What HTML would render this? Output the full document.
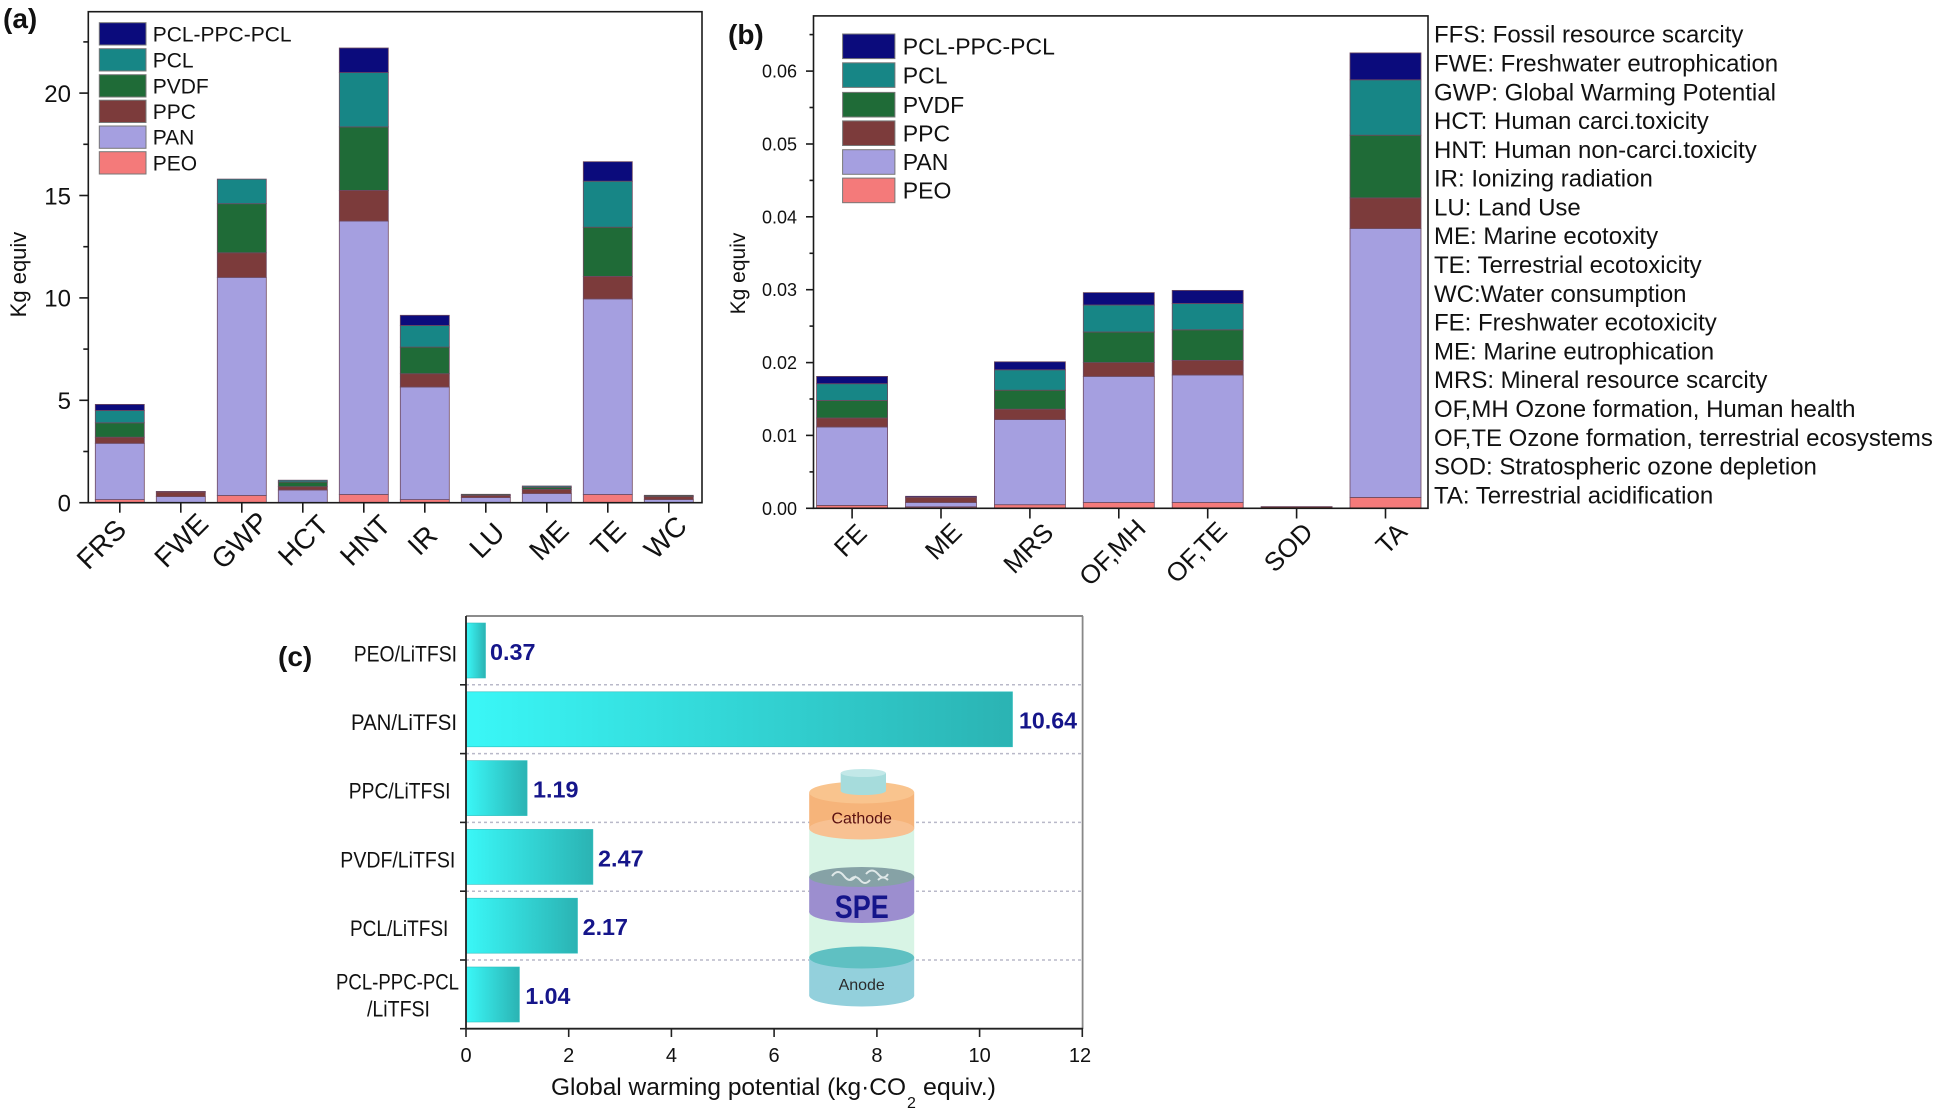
<!DOCTYPE html>
<html><head><meta charset="utf-8"><style>
body{margin:0;background:#fff}
svg{display:block}
text{font-family:"Liberation Sans",Arial,sans-serif;fill:#111}
text.nv{fill:#15158a}
text.dr{fill:#5a1010}
text.dk{fill:#2a2a2a}
.n{fill:#0b0b7c}.t{fill:#178686}.g{fill:#1f6b37}.p{fill:#7c3b3b}.l{fill:#a59fe0}.r{fill:#f47a7a}
.bars rect{stroke:#6e4a60;stroke-width:0.8}
.leg rect{stroke:#777;stroke-width:1}
.ax{stroke:#1a1a1a;stroke-width:1.6;fill:none}
</style></head><body>
<svg width="1938" height="1113" viewBox="0 0 1938 1113" xmlns="http://www.w3.org/2000/svg">
<defs>
<linearGradient id="cy" x1="0" y1="0" x2="1" y2="0">
<stop offset="0" stop-color="#3af7f7"/><stop offset="1" stop-color="#2bb3b3"/>
</linearGradient>
</defs>
<rect width="1938" height="1113" fill="#fff"/>

<!-- ================= PANEL A ================= -->
<text x="3" y="28" font-size="28" font-weight="bold">(a)</text>
<g class="bars">
<g transform="translate(95.3,0)"><rect class="r" y="499.6" width="49" height="3.1"/><rect class="l" y="443.3" width="49" height="56.3"/><rect class="p" y="437.2" width="49" height="6.1"/><rect class="g" y="422.8" width="49" height="14.4"/><rect class="t" y="410.5" width="49" height="12.3"/><rect class="n" y="404.4" width="49" height="6.1"/></g>
<g transform="translate(156.3,0)"><rect class="l" y="496.6" width="49" height="6.1"/><rect class="p" y="492.1" width="49" height="4.5"/><rect class="g" y="491.4" width="49" height="0.7"/></g>
<g transform="translate(217.3,0)"><rect class="r" y="495.5" width="49" height="7.2"/><rect class="l" y="277.4" width="49" height="218.1"/><rect class="p" y="252.8" width="49" height="24.6"/><rect class="g" y="203.7" width="49" height="49.1"/><rect class="t" y="179.1" width="49" height="24.6"/></g>
<g transform="translate(278.3,0)"><rect class="l" y="490.0" width="49" height="12.7"/><rect class="p" y="486.7" width="49" height="3.3"/><rect class="g" y="482.0" width="49" height="4.7"/><rect class="t" y="480.2" width="49" height="1.8"/></g>
<g transform="translate(339.3,0)"><rect class="r" y="494.5" width="49" height="8.2"/><rect class="l" y="221.1" width="49" height="273.4"/><rect class="p" y="190.4" width="49" height="30.7"/><rect class="g" y="126.9" width="49" height="63.5"/><rect class="t" y="72.6" width="49" height="54.3"/><rect class="n" y="48.0" width="49" height="24.6"/></g>
<g transform="translate(400.3,0)"><rect class="r" y="499.6" width="49" height="3.1"/><rect class="l" y="387.0" width="49" height="112.6"/><rect class="p" y="373.7" width="49" height="13.3"/><rect class="g" y="347.1" width="49" height="26.6"/><rect class="t" y="325.5" width="49" height="21.6"/><rect class="n" y="315.3" width="49" height="10.2"/></g>
<g transform="translate(461.3,0)"><rect class="l" y="497.6" width="49" height="5.1"/><rect class="p" y="495.5" width="49" height="2.1"/><rect class="g" y="494.3" width="49" height="1.2"/></g>
<g transform="translate(522.3,0)"><rect class="l" y="493.5" width="49" height="9.2"/><rect class="p" y="489.4" width="49" height="4.1"/><rect class="g" y="487.3" width="49" height="2.1"/><rect class="t" y="486.0" width="49" height="1.3"/></g>
<g transform="translate(583.3,0)"><rect class="r" y="494.5" width="49" height="8.2"/><rect class="l" y="298.9" width="49" height="195.6"/><rect class="p" y="276.4" width="49" height="22.5"/><rect class="g" y="227.2" width="49" height="49.2"/><rect class="t" y="181.2" width="49" height="46"/><rect class="n" y="161.7" width="49" height="19.5"/></g>
<g transform="translate(644.3,0)"><rect class="l" y="499.6" width="49" height="3.1"/><rect class="p" y="496.6" width="49" height="3"/><rect class="g" y="495.3" width="49" height="1.3"/></g>
</g>
<rect class="ax" x="88.3" y="11.7" width="613.7" height="491"/>
<!-- y ticks a -->
<g stroke="#1a1a1a" stroke-width="1.6">
<line x1="79.3" y1="502.7" x2="88.3" y2="502.7"/><line x1="79.3" y1="400.3" x2="88.3" y2="400.3"/><line x1="79.3" y1="297.9" x2="88.3" y2="297.9"/><line x1="79.3" y1="195.5" x2="88.3" y2="195.5"/><line x1="79.3" y1="93.1" x2="88.3" y2="93.1"/>
<line x1="83.3" y1="451.5" x2="88.3" y2="451.5"/><line x1="83.3" y1="349.1" x2="88.3" y2="349.1"/><line x1="83.3" y1="246.7" x2="88.3" y2="246.7"/><line x1="83.3" y1="144.3" x2="88.3" y2="144.3"/><line x1="83.3" y1="41.9" x2="88.3" y2="41.9"/>
<line x1="119.8" y1="502.7" x2="119.8" y2="512.7"/><line x1="180.8" y1="502.7" x2="180.8" y2="512.7"/><line x1="241.8" y1="502.7" x2="241.8" y2="512.7"/><line x1="302.8" y1="502.7" x2="302.8" y2="512.7"/><line x1="363.8" y1="502.7" x2="363.8" y2="512.7"/><line x1="424.8" y1="502.7" x2="424.8" y2="512.7"/><line x1="485.8" y1="502.7" x2="485.8" y2="512.7"/><line x1="546.8" y1="502.7" x2="546.8" y2="512.7"/><line x1="607.8" y1="502.7" x2="607.8" y2="512.7"/><line x1="668.8" y1="502.7" x2="668.8" y2="512.7"/>
</g>
<g font-size="24" text-anchor="end">
<text x="71" y="511.5">0</text><text x="71" y="409.1">5</text><text x="71" y="306.7">10</text><text x="71" y="204.3">15</text><text x="71" y="101.9">20</text>
</g>
<text transform="translate(26,274.5) rotate(-90)" font-size="22" text-anchor="middle">Kg equiv</text>
<g font-size="28" text-anchor="middle">
<text transform="translate(101,544) rotate(-45)" dy="0.36em">FRS</text>
<text transform="translate(180.8,540) rotate(-45)" dy="0.36em">FWE</text>
<text transform="translate(239.5,540) rotate(-45)" dy="0.36em">GWP</text>
<text transform="translate(302.8,540) rotate(-45)" dy="0.36em">HCT</text>
<text transform="translate(364.8,540) rotate(-45)" dy="0.36em">HNT</text>
<text transform="translate(422,540) rotate(-45)" dy="0.36em">IR</text>
<text transform="translate(486.5,540) rotate(-45)" dy="0.36em">LU</text>
<text transform="translate(548.5,540) rotate(-45)" dy="0.36em">ME</text>
<text transform="translate(607.8,538) rotate(-45)" dy="0.36em">TE</text>
<text transform="translate(665,537) rotate(-45)" dy="0.36em">WC</text>
</g>
<g class="leg">
<rect class="n" x="99.3" y="22.7" width="46.7" height="22.3"/>
<rect class="t" x="99.3" y="48.7" width="46.7" height="22.3"/>
<rect class="g" x="99.3" y="74.7" width="46.7" height="22.3"/>
<rect class="p" x="99.3" y="100.2" width="46.7" height="22.3"/>
<rect class="l" x="99.3" y="126" width="46.7" height="22.3"/>
<rect class="r" x="99.3" y="151.7" width="46.7" height="22.3"/>
</g>
<g font-size="21">
<text x="152.7" y="41.3">PCL-PPC-PCL</text>
<text x="152.7" y="67.3">PCL</text>
<text x="152.7" y="93.3">PVDF</text>
<text x="152.7" y="118.8">PPC</text>
<text x="152.7" y="144.6">PAN</text>
<text x="152.7" y="170.3">PEO</text>
</g>

<!-- ================= PANEL B ================= -->
<text x="728" y="44" font-size="28" font-weight="bold">(b)</text>
<g class="bars">
<g transform="translate(816.6,0)"><rect class="r" y="505.4" width="71" height="2.9"/><rect class="l" y="427.0" width="71" height="78.4"/><rect class="p" y="418.0" width="71" height="9"/><rect class="g" y="400.5" width="71" height="17.5"/><rect class="t" y="383.7" width="71" height="16.8"/><rect class="n" y="376.4" width="71" height="7.3"/></g>
<g transform="translate(905.5,0)"><rect class="r" y="506.8" width="71" height="1.5"/><rect class="l" y="502.5" width="71" height="4.3"/><rect class="p" y="497.4" width="71" height="5.1"/><rect class="n" y="496.3" width="71" height="1.1"/></g>
<g transform="translate(994.4,0)"><rect class="r" y="504.7" width="71" height="3.6"/><rect class="l" y="419.6" width="71" height="85.1"/><rect class="p" y="409.2" width="71" height="10.4"/><rect class="g" y="390.2" width="71" height="19"/><rect class="t" y="369.8" width="71" height="20.4"/><rect class="n" y="361.8" width="71" height="8"/></g>
<g transform="translate(1083.3,0)"><rect class="r" y="502.5" width="71" height="5.8"/><rect class="l" y="376.4" width="71" height="126.1"/><rect class="p" y="362.6" width="71" height="13.8"/><rect class="g" y="332.0" width="71" height="30.6"/><rect class="t" y="305.0" width="71" height="27"/><rect class="n" y="292.6" width="71" height="12.4"/></g>
<g transform="translate(1172.2,0)"><rect class="r" y="502.5" width="71" height="5.8"/><rect class="l" y="375.0" width="71" height="127.5"/><rect class="p" y="360.4" width="71" height="14.6"/><rect class="g" y="329.8" width="71" height="30.6"/><rect class="t" y="303.5" width="71" height="26.3"/><rect class="n" y="290.4" width="71" height="13.1"/></g>
<g transform="translate(1261.1,0)"><rect class="p" y="506.6" width="71" height="1.7"/></g>
<g transform="translate(1350,0)"><rect class="r" y="497.4" width="71" height="10.9"/><rect class="l" y="228.5" width="71" height="268.9"/><rect class="p" y="197.9" width="71" height="30.6"/><rect class="g" y="135.2" width="71" height="62.7"/><rect class="t" y="79.8" width="71" height="55.4"/><rect class="n" y="52.9" width="71" height="26.9"/></g>
</g>
<rect class="ax" x="813.5" y="15.9" width="614.5" height="492.4"/>
<g stroke="#1a1a1a" stroke-width="1.6">
<line x1="806" y1="508.3" x2="813.5" y2="508.3"/><line x1="806" y1="435.4" x2="813.5" y2="435.4"/><line x1="806" y1="362.6" x2="813.5" y2="362.6"/><line x1="806" y1="289.7" x2="813.5" y2="289.7"/><line x1="806" y1="216.8" x2="813.5" y2="216.8"/><line x1="806" y1="144.0" x2="813.5" y2="144.0"/><line x1="806" y1="71.1" x2="813.5" y2="71.1"/>
<line x1="809.5" y1="471.9" x2="813.5" y2="471.9"/><line x1="809.5" y1="399.0" x2="813.5" y2="399.0"/><line x1="809.5" y1="326.1" x2="813.5" y2="326.1"/><line x1="809.5" y1="253.3" x2="813.5" y2="253.3"/><line x1="809.5" y1="180.4" x2="813.5" y2="180.4"/><line x1="809.5" y1="107.5" x2="813.5" y2="107.5"/><line x1="809.5" y1="34.6" x2="813.5" y2="34.6"/>
<line x1="852.1" y1="508.3" x2="852.1" y2="518.5"/><line x1="941" y1="508.3" x2="941" y2="518.5"/><line x1="1029.9" y1="508.3" x2="1029.9" y2="518.5"/><line x1="1118.8" y1="508.3" x2="1118.8" y2="518.5"/><line x1="1207.7" y1="508.3" x2="1207.7" y2="518.5"/><line x1="1296.6" y1="508.3" x2="1296.6" y2="518.5"/><line x1="1385.5" y1="508.3" x2="1385.5" y2="518.5"/>
</g>
<g font-size="18" text-anchor="end">
<text x="797" y="514.8">0.00</text><text x="797" y="441.9">0.01</text><text x="797" y="369.1">0.02</text><text x="797" y="296.2">0.03</text><text x="797" y="223.3">0.04</text><text x="797" y="150.5">0.05</text><text x="797" y="77.6">0.06</text>
</g>
<text transform="translate(745,273.5) rotate(-90)" font-size="21" text-anchor="middle">Kg equiv</text>
<g font-size="26" text-anchor="middle">
<text transform="translate(850,540) rotate(-45)" dy="0.36em">FE</text>
<text transform="translate(943,541) rotate(-45)" dy="0.36em">ME</text>
<text transform="translate(1028,548) rotate(-45)" dy="0.36em">MRS</text>
<text transform="translate(1112,552) rotate(-45)" dy="0.36em">OF,MH</text>
<text transform="translate(1196,552) rotate(-45)" dy="0.36em">OF,TE</text>
<text transform="translate(1288,547) rotate(-45)" dy="0.36em">SOD</text>
<text transform="translate(1391,538) rotate(-45)" dy="0.36em">TA</text>
</g>
<g class="leg">
<rect class="n" x="842.6" y="34" width="52.3" height="24.6"/>
<rect class="t" x="842.6" y="62.8" width="52.3" height="24.6"/>
<rect class="g" x="842.6" y="92.4" width="52.3" height="24.6"/>
<rect class="p" x="842.6" y="120.9" width="52.3" height="24.6"/>
<rect class="l" x="842.6" y="149.7" width="52.3" height="24.6"/>
<rect class="r" x="842.6" y="178.1" width="52.3" height="24.6"/>
</g>
<g font-size="23">
<text x="902.8" y="54.5">PCL-PPC-PCL</text>
<text x="902.8" y="83.3">PCL</text>
<text x="902.8" y="112.9">PVDF</text>
<text x="902.8" y="141.4">PPC</text>
<text x="902.8" y="170.2">PAN</text>
<text x="902.8" y="198.6">PEO</text>
</g>

<!-- definitions -->
<g font-size="24">
<text x="1434" y="42.7">FFS: Fossil resource scarcity</text>
<text x="1434" y="71.5">FWE: Freshwater eutrophication</text>
<text x="1434" y="100.3">GWP: Global Warming Potential</text>
<text x="1434" y="129.1">HCT: Human carci.toxicity</text>
<text x="1434" y="157.9">HNT: Human non-carci.toxicity</text>
<text x="1434" y="186.7">IR: Ionizing radiation</text>
<text x="1434" y="215.4">LU: Land Use</text>
<text x="1434" y="244.2">ME: Marine ecotoxity</text>
<text x="1434" y="273.0">TE: Terrestrial ecotoxicity</text>
<text x="1434" y="301.8">WC:Water consumption</text>
<text x="1434" y="330.6">FE: Freshwater ecotoxicity</text>
<text x="1434" y="359.4">ME: Marine eutrophication</text>
<text x="1434" y="388.2">MRS: Mineral resource scarcity</text>
<text x="1434" y="417.0">OF,MH Ozone formation, Human health</text>
<text x="1434" y="445.8">OF,TE Ozone formation, terrestrial ecosystems</text>
<text x="1434" y="474.5">SOD: Stratospheric ozone depletion</text>
<text x="1434" y="503.3">TA: Terrestrial acidification</text>
</g>

<!-- ================= PANEL C ================= -->
<text x="278" y="666" font-size="28" font-weight="bold">(c)</text>
<!-- separators -->
<g stroke="#b9b9c9" stroke-width="1.5" stroke-dasharray="3,3">
<line x1="466" y1="684.8" x2="1082" y2="684.8"/><line x1="466" y1="753.6" x2="1082" y2="753.6"/><line x1="466" y1="822.4" x2="1082" y2="822.4"/><line x1="466" y1="891.2" x2="1082" y2="891.2"/><line x1="466" y1="960" x2="1082" y2="960"/>
</g>
<!-- frame -->
<line x1="466" y1="616" x2="1083" y2="616" stroke="#666" stroke-width="1.6"/>
<line x1="1082.6" y1="616" x2="1082.6" y2="1029" stroke="#888" stroke-width="1.8"/>
<!-- bars -->
<g fill="url(#cy)" stroke="#2fbfbf" stroke-width="0.6">
<rect x="466.5" y="623" width="19" height="55"/>
<rect x="466.5" y="691.8" width="546" height="55"/>
<rect x="466.5" y="760.6" width="60.6" height="55"/>
<rect x="466.5" y="829.4" width="126.4" height="55"/>
<rect x="466.5" y="898.2" width="111" height="55"/>
<rect x="466.5" y="967" width="52.9" height="55"/>
</g>
<!-- axes -->
<line x1="466" y1="616" x2="466" y2="1029.5" stroke="#222" stroke-width="1.8"/>
<line x1="466" y1="1028.7" x2="1083" y2="1028.7" stroke="#222" stroke-width="1.8"/>
<g stroke="#222" stroke-width="1.6">
<line x1="460" y1="684.8" x2="466" y2="684.8"/><line x1="460" y1="753.6" x2="466" y2="753.6"/><line x1="460" y1="822.4" x2="466" y2="822.4"/><line x1="460" y1="891.2" x2="466" y2="891.2"/><line x1="460" y1="960" x2="466" y2="960"/><line x1="460" y1="1028.7" x2="466" y2="1028.7"/>
<line x1="466" y1="1028.7" x2="466" y2="1037"/><line x1="568.7" y1="1028.7" x2="568.7" y2="1037"/><line x1="671.4" y1="1028.7" x2="671.4" y2="1037"/><line x1="774.1" y1="1028.7" x2="774.1" y2="1037"/><line x1="876.9" y1="1028.7" x2="876.9" y2="1037"/><line x1="979.6" y1="1028.7" x2="979.6" y2="1037"/><line x1="1082.3" y1="1028.7" x2="1082.3" y2="1037"/>
</g>
<g font-size="20" text-anchor="middle">
<text x="466" y="1062">0</text><text x="568.7" y="1062">2</text><text x="671.4" y="1062">4</text><text x="774.1" y="1062">6</text><text x="876.9" y="1062">8</text><text x="979.6" y="1062">10</text><text x="1080" y="1062">12</text>
</g>
<text x="551" y="1095" font-size="24" textLength="355" lengthAdjust="spacingAndGlyphs">Global warming potential (kg·CO</text>
<text x="907" y="1108" font-size="16">2</text>
<text x="923" y="1095" font-size="24" textLength="73" lengthAdjust="spacingAndGlyphs">equiv.)</text>
<!-- category labels -->
<g font-size="22">
<text x="353.7" y="661.5" textLength="103.3" lengthAdjust="spacingAndGlyphs">PEO/LiTFSI</text>
<text x="351" y="730" textLength="106" lengthAdjust="spacingAndGlyphs">PAN/LiTFSI</text>
<text x="348.8" y="798.5" textLength="101.7" lengthAdjust="spacingAndGlyphs">PPC/LiTFSI</text>
<text x="340.3" y="867.3" textLength="115" lengthAdjust="spacingAndGlyphs">PVDF/LiTFSI</text>
<text x="350" y="936.1" textLength="98.3" lengthAdjust="spacingAndGlyphs">PCL/LiTFSI</text>
<text x="336" y="989.5" textLength="123" lengthAdjust="spacingAndGlyphs">PCL-PPC-PCL</text>
<text x="367" y="1016.5" textLength="63" lengthAdjust="spacingAndGlyphs">/LiTFSI</text>
</g>
<!-- value labels -->
<g font-size="23" font-weight="bold">
<text class="nv" x="490" y="659.9" textLength="45.5" lengthAdjust="spacingAndGlyphs">0.37</text>
<text class="nv" x="1019" y="728.7" textLength="58" lengthAdjust="spacingAndGlyphs">10.64</text>
<text class="nv" x="533" y="797.5" textLength="45.5" lengthAdjust="spacingAndGlyphs">1.19</text>
<text class="nv" x="598" y="866.3" textLength="45.6" lengthAdjust="spacingAndGlyphs">2.47</text>
<text class="nv" x="582.6" y="935.1" textLength="45.4" lengthAdjust="spacingAndGlyphs">2.17</text>
<text class="nv" x="525.4" y="1003.9" textLength="45" lengthAdjust="spacingAndGlyphs">1.04</text>
</g>

<!-- battery illustration -->
<g>
<rect x="809.2" y="826" width="105" height="134" fill="#d8f4e5"/>
<!-- anode -->
<rect x="809.2" y="957.5" width="105" height="38" fill="#93d0dc"/>
<ellipse cx="861.7" cy="995.5" rx="52.5" ry="11" fill="#93d0dc"/>
<ellipse cx="861.7" cy="957.5" rx="52.5" ry="11" fill="#5fc0c2"/>
<text class="dk" x="861.7" y="990" font-size="16" text-anchor="middle">Anode</text>
<!-- SPE -->
<rect x="809.2" y="877" width="105" height="35" fill="#9c8ecf"/>
<ellipse cx="861.7" cy="912" rx="52.5" ry="11" fill="#9c8ecf"/>
<ellipse cx="861.7" cy="877" rx="52.5" ry="10" fill="#86a2a6"/>
<path d="M832 876 q6 -8 12 0 t12 0 M850 880 q5 -6 10 0 t10 0 M866 874 q6 -7 12 0 t10 0 M878 880 q5 -5 10 0" stroke="#dfe8e8" stroke-width="2" fill="none"/>
<text class="nv" x="834.7" y="918" font-size="32" font-weight="bold" textLength="54" lengthAdjust="spacingAndGlyphs">SPE</text>
<!-- cathode -->
<rect x="809.2" y="792.5" width="105" height="36" fill="#f6b47a"/>
<ellipse cx="861.7" cy="828.5" rx="52.5" ry="11" fill="#f8c192"/>
<ellipse cx="861.7" cy="792.5" rx="52.5" ry="11" fill="#f9c48e"/>
<text class="dr" x="861.7" y="823.3" font-size="16" text-anchor="middle">Cathode</text>
<!-- terminal -->
<rect x="840.7" y="773" width="45.3" height="18" fill="#a6dcdc"/>
<ellipse cx="863.3" cy="791" rx="22.6" ry="4" fill="#a6dcdc"/>
<ellipse cx="863.3" cy="773" rx="22.6" ry="4" fill="#c2e8e8"/>
</g>
</svg>
</body></html>
